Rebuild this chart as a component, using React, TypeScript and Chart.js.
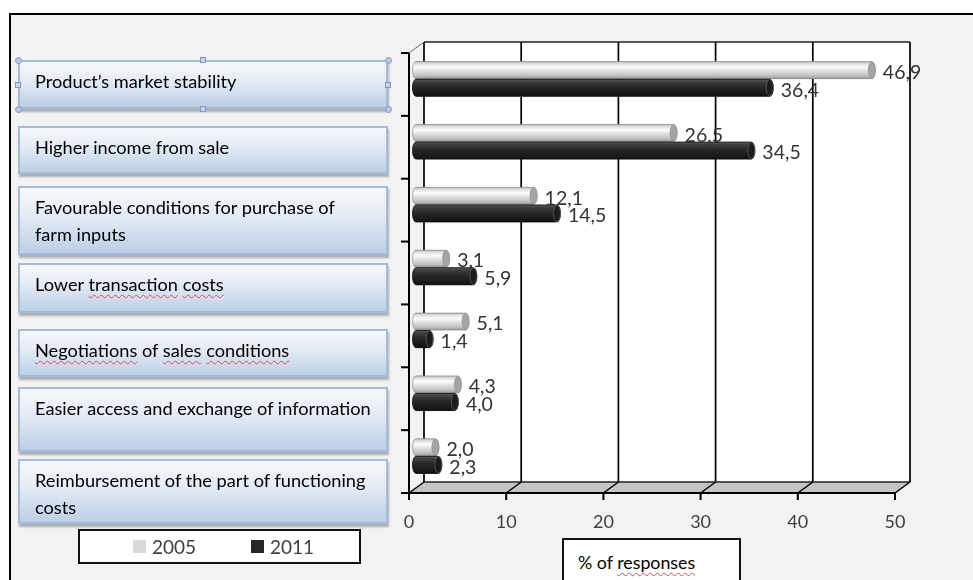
import React, { useEffect, useRef } from "react";
import { Chart, registerables } from "chart.js";

Chart.register(...registerables);

// ---------- data ----------
const categories = [
  "Product’s market stability",
  "Higher income from sale",
  "Favourable conditions for purchase of\nfarm inputs",
  "Lower transaction costs",
  "Negotiations of sales conditions",
  "Easier access and exchange of information",
  "Reimbursement of the part of functioning\ncosts",
];
const seriesNames = ["2005", "2011"];
const values2005 = [46.9, 26.5, 12.1, 3.1, 5.1, 4.3, 2.0];
const values2011 = [36.4, 34.5, 14.5, 5.9, 1.4, 4.0, 2.3];
const xTicks = [0, 10, 20, 30, 40, 50];
const axisTitle = "% of responses";

// ---------- layout / style ----------
const W = 973;
const H = 580;
const FONT = "Lato, 'Open Sans', sans-serif";
const FRONT = { left: 409, right: 895, top: 53, bottom: 493 };
const DEPTH_X = 15;
const DEPTH_Y = -11;
const BAR_DX = 7;
const BAR_DY = -5.5;
const seriesColors = ["#d9d9d9", "#262626"];

// label boxes: [top, height]
const boxLayout: [number, number][] = [
  [60, 49],
  [126, 48],
  [186, 69],
  [263, 50],
  [329, 48],
  [387, 65],
  [459, 65],
];
const squiggly: Record<number, string[]> = {
  3: ["transaction", "costs"],
  4: ["Negotiations", "sales", "conditions"],
};

const fmt = (v: number) => v.toFixed(1).replace(".", ",");

const depthPlugin = {
  id: "depth3d",
  beforeDraw(chart: any) {
    const { ctx, chartArea: a, scales } = chart;
    const xs = scales.x;
    const ys = scales.y;
    ctx.save();
    // back wall
    ctx.fillStyle = "#ffffff";
    ctx.fillRect(a.left + DEPTH_X, a.top + DEPTH_Y, a.right - a.left, a.bottom - a.top);
    // floor
    ctx.beginPath();
    ctx.moveTo(a.left, a.bottom);
    ctx.lineTo(a.left + DEPTH_X, a.bottom + DEPTH_Y);
    ctx.lineTo(a.right + DEPTH_X, a.bottom + DEPTH_Y);
    ctx.lineTo(a.right, a.bottom);
    ctx.closePath();
    ctx.fillStyle = "#c4c4c4";
    ctx.fill();
    ctx.strokeStyle = "#000";
    // back-wall grid lines
    ctx.lineWidth = 1.7;
    for (const v of xTicks) {
      const xb = xs.getPixelForValue(v) + DEPTH_X;
      ctx.beginPath();
      ctx.moveTo(xb, a.top + DEPTH_Y);
      ctx.lineTo(xb, a.bottom + DEPTH_Y);
      ctx.stroke();
    }
    // top edge of back wall
    ctx.lineWidth = 1.3;
    ctx.strokeStyle = "#222";
    ctx.beginPath();
    ctx.moveTo(a.left + DEPTH_X, a.top + DEPTH_Y);
    ctx.lineTo(a.right + DEPTH_X, a.top + DEPTH_Y);
    ctx.stroke();
    // back floor edge
    ctx.beginPath();
    ctx.moveTo(a.left + DEPTH_X, a.bottom + DEPTH_Y);
    ctx.lineTo(a.right + DEPTH_X, a.bottom + DEPTH_Y);
    ctx.stroke();
    // floor diagonals
    ctx.strokeStyle = "#000";
    ctx.lineWidth = 1.5;
    for (const v of xTicks) {
      const xf = xs.getPixelForValue(v);
      ctx.beginPath();
      ctx.moveTo(xf, a.bottom);
      ctx.lineTo(xf + DEPTH_X, a.bottom + DEPTH_Y);
      ctx.stroke();
    }
    // top-left diagonal
    ctx.strokeStyle = "#666";
    ctx.lineWidth = 1;
    ctx.beginPath();
    ctx.moveTo(a.left, a.top);
    ctx.lineTo(a.left + DEPTH_X, a.top + DEPTH_Y);
    ctx.stroke();
    // left axis
    ctx.strokeStyle = "#000";
    ctx.lineWidth = 2;
    ctx.beginPath();
    ctx.moveTo(a.left, a.top);
    ctx.lineTo(a.left, a.bottom + 1);
    ctx.stroke();
    const band = ys.getPixelForValue(1) - ys.getPixelForValue(0);
    const y0 = ys.getPixelForValue(0) - band / 2;
    for (let i = 0; i <= categories.length; i++) {
      const y = y0 + i * band;
      ctx.beginPath();
      ctx.moveTo(a.left - 8, y);
      ctx.lineTo(a.left, y);
      ctx.stroke();
    }
    // front axis line and tick marks
    ctx.beginPath();
    ctx.moveTo(a.left - 1, a.bottom);
    ctx.lineTo(a.right, a.bottom);
    ctx.stroke();
    for (const v of xTicks) {
      const xf = xs.getPixelForValue(v);
      ctx.beginPath();
      ctx.moveTo(xf, a.bottom);
      ctx.lineTo(xf, a.bottom + 7);
      ctx.stroke();
    }
    ctx.restore();
  },
  beforeDatasetsDraw(chart: any) {
    chart.ctx.save();
    chart.ctx.translate(BAR_DX, BAR_DY);
  },
  afterDatasetsDraw(chart: any) {
    const ctx = chart.ctx;
    chart.data.datasets.forEach((ds: any, di: number) => {
      const meta = chart.getDatasetMeta(di);
      meta.data.forEach((el: any) => {
        const { x, y, base, height } = el.getProps(["x", "y", "base", "height"], true);
        const top = y - height / 2;
        const r = 3.5;
        const g = ctx.createLinearGradient(0, top, 0, top + height);
        if (di === 0) {
          g.addColorStop(0, "#b4b4b4");
          g.addColorStop(0.12, "#dedede");
          g.addColorStop(0.33, "#fbfbfb");
          g.addColorStop(0.58, "#dcdcdc");
          g.addColorStop(0.85, "#bdbdbd");
          g.addColorStop(1, "#969696");
        } else {
          g.addColorStop(0, "#5e5e5e");
          g.addColorStop(0.15, "#3e3e3e");
          g.addColorStop(0.45, "#282828");
          g.addColorStop(1, "#121212");
        }
        ctx.save();
        ctx.beginPath();
        ctx.moveTo(base, top);
        ctx.lineTo(x, top);
        ctx.ellipse(x, y, r, height / 2, 0, -Math.PI / 2, Math.PI / 2);
        ctx.lineTo(base, top + height);
        ctx.ellipse(base, y, r, height / 2, 0, Math.PI / 2, (3 * Math.PI) / 2);
        ctx.closePath();
        ctx.fillStyle = g;
        ctx.fill();
        ctx.lineWidth = 0.8;
        ctx.strokeStyle = di === 0 ? "rgba(120,120,120,0.7)" : "#0a0a0a";
        ctx.stroke();
        // end cap
        ctx.beginPath();
        ctx.ellipse(x, y, r, height / 2 - 0.3, 0, 0, Math.PI * 2);
        ctx.fillStyle = di === 0 ? "#a4a4a4" : "#1c1c1c";
        ctx.fill();
        ctx.strokeStyle = di === 0 ? "#959595" : "#5a5a5a";
        ctx.lineWidth = 0.8;
        ctx.stroke();
        ctx.restore();
      });
    });
    // data labels
    ctx.save();
    ctx.font = `19.5px ${FONT}`;
    ctx.fillStyle = "#333333";
    ctx.textAlign = "left";
    ctx.textBaseline = "middle";
    chart.data.datasets.forEach((ds: any, di: number) => {
      const meta = chart.getDatasetMeta(di);
      meta.data.forEach((el: any, i: number) => {
        const { x, y } = el.getProps(["x", "y"], true);
        ctx.fillText(fmt(ds.data[i]), x + 11, y + 2.5);
      });
    });
    ctx.restore();
    ctx.restore();
  },
  afterDraw(chart: any) {
    const { ctx, chartArea: a, scales } = chart;
    const xs = scales.x;
    ctx.save();
    ctx.font = `18px ${FONT}`;
    ctx.fillStyle = "#404040";
    ctx.textAlign = "center";
    ctx.textBaseline = "middle";
    for (const v of xTicks) {
      ctx.fillText(String(v), xs.getPixelForValue(v), a.bottom + 29);
    }
    ctx.restore();
  },
};

const wavy: React.CSSProperties = {
  textDecorationLine: "underline",
  textDecorationStyle: "wavy",
  textDecorationColor: "#e5484d",
  textDecorationThickness: "1px",
  textUnderlineOffset: "3px",
};

function BoxText({ text, idx }: { text: string; idx: number }) {
  const marks = squiggly[idx] || [];
  const lines = text.split("\n");
  return (
    <>
      {lines.map((line, li) => (
        <div key={li} style={{ whiteSpace: "nowrap" }}>
          {line.split(" ").map((w, wi) => (
            <React.Fragment key={wi}>
              {wi > 0 ? " " : ""}
              {marks.includes(w) ? <span style={wavy}>{w}</span> : w}
            </React.Fragment>
          ))}
        </div>
      ))}
    </>
  );
}

function Handles() {
  const left = 18;
  const right = 388;
  const top = 60;
  const bottom = 109;
  const cx = (left + right) / 2;
  const cy = (top + bottom) / 2;
  const circ = [
    [left, top],
    [right, top],
    [left, bottom],
    [right, bottom],
  ];
  const sq = [
    [cx, top],
    [cx, bottom],
    [left, cy],
    [right, cy],
  ];
  return (
    <>
      {circ.map(([x, y], i) => (
        <div
          key={"c" + i}
          style={{
            position: "absolute",
            left: x - 3.5,
            top: y - 3.5,
            width: 7,
            height: 7,
            borderRadius: "50%",
            background: "#b9cbe3",
            border: "1px solid #7d99c2",
            boxSizing: "border-box",
          }}
        />
      ))}
      {sq.map(([x, y], i) => (
        <div
          key={"s" + i}
          style={{
            position: "absolute",
            left: x - 3,
            top: y - 3,
            width: 6,
            height: 6,
            background: "#c6d5ea",
            border: "1px solid #7d99c2",
            boxSizing: "border-box",
          }}
        />
      ))}
    </>
  );
}

export default function App() {
  const ref = useRef<HTMLCanvasElement>(null);

  useEffect(() => {
    const chart = new Chart(ref.current as HTMLCanvasElement, {
      type: "bar",
      data: {
        labels: categories,
        datasets: [
          {
            label: seriesNames[0],
            data: values2005,
            backgroundColor: seriesColors[0],
            borderWidth: 0,
            categoryPercentage: 0.56,
            barPercentage: 0.97,
          },
          {
            label: seriesNames[1],
            data: values2011,
            backgroundColor: seriesColors[1],
            borderWidth: 0,
            categoryPercentage: 0.56,
            barPercentage: 0.97,
          },
        ],
      },
      options: {
        indexAxis: "y",
        responsive: false,
        animation: false,
        devicePixelRatio: 1,
        layout: {
          padding: {
            left: FRONT.left,
            right: W - FRONT.right,
            top: FRONT.top,
            bottom: H - FRONT.bottom,
          },
        },
        scales: {
          x: { type: "linear", min: 0, max: 50, display: false },
          y: { type: "category", display: false },
        },
        plugins: {
          legend: { display: false },
          tooltip: { enabled: false },
        },
        datasets: { bar: { clip: false } as any },
      } as any,
      plugins: [depthPlugin],
    });
    return () => chart.destroy();
  }, []);

  const titleWords = axisTitle.split(" ");

  return (
    <div
      style={{
        position: "absolute",
        left: 0,
        top: 0,
        width: W,
        height: H,
        overflow: "hidden",
        background: "#ffffff",
        fontFamily: FONT,
      }}
    >
      <div
        style={{
          position: "absolute",
          left: 9,
          top: 13,
          width: W,
          height: H,
          borderLeft: "2px solid #000",
          borderTop: "2px solid #000",
          background: "#f2f2f2",
        }}
      />
      <canvas
        ref={ref}
        width={W}
        height={H}
        style={{ position: "absolute", left: 0, top: 0, width: W, height: H }}
      />
      {categories.map((c, i) => (
        <div
          key={i}
          style={{
            position: "absolute",
            left: 18,
            top: boxLayout[i][0],
            width: 370,
            height: boxLayout[i][1],
            boxSizing: "border-box",
            border: "2px solid #a3bcdc",
            background: "linear-gradient(180deg, #f7f9fc 0%, #e2eaf4 45%, #bccfe6 100%)",
            boxShadow: "1px 3px 2px rgba(90,90,90,0.45)",
            paddingLeft: 15,
            paddingTop: 6,
            fontSize: 18.2,
            lineHeight: "27px",
            color: "#000",
          }}
        >
          <BoxText text={c} idx={i} />
        </div>
      ))}
      <Handles />
      <div
        style={{
          position: "absolute",
          left: 78,
          top: 529,
          width: 283,
          height: 35,
          boxSizing: "border-box",
          border: "2px solid #111",
          background: "#fff",
        }}
      >
        {seriesNames.map((s, i) => (
          <div
            key={s}
            style={{
              position: "absolute",
              left: 53 + i * 118,
              top: 0,
              height: 31,
              display: "flex",
              alignItems: "center",
              fontSize: 19,
              color: "#404040",
            }}
          >
            <span
              style={{
                display: "inline-block",
                width: 13,
                height: 13,
                background: seriesColors[i],
                marginRight: 6,
              }}
            />
            {s}
          </div>
        ))}
      </div>
      <div
        style={{
          position: "absolute",
          left: 562,
          top: 538,
          width: 179,
          height: 60,
          boxSizing: "border-box",
          border: "2px solid #111",
          background: "#fff",
          paddingLeft: 14,
          paddingTop: 9,
          fontSize: 17.8,
          lineHeight: "27px",
          color: "#000",
        }}
      >
        <span>{titleWords[0]} {titleWords[1]} </span>
        <span style={wavy}>{titleWords[2]}</span>
      </div>
    </div>
  );
}
